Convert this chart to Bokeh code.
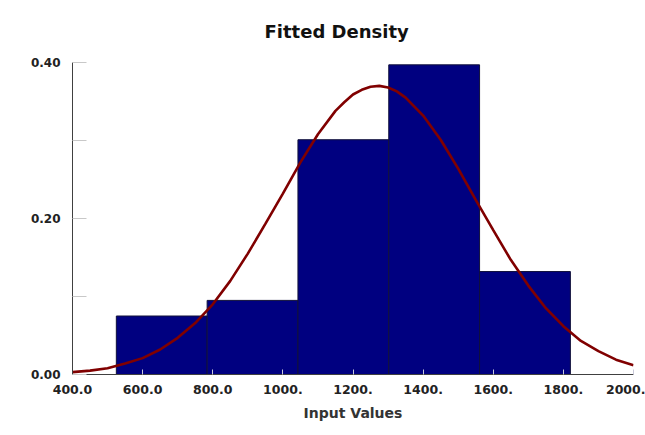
from bokeh.plotting import figure
from bokeh.models import FixedTicker, Range1d
from bokeh.embed import file_html
from bokeh.resources import INLINE

# Histogram bins (Input Values) and relative frequencies
bin_left = [525, 784, 1043, 1302, 1561]
bin_right = [784, 1043, 1302, 1561, 1820]
bin_height = [0.075, 0.095, 0.301, 0.397, 0.132]

# Fitted density curve
curve_x = [400, 450, 500, 550, 600, 650, 700, 750, 800, 850, 900, 950, 1000,
           1050, 1100, 1150, 1175, 1200, 1225, 1250, 1275, 1300, 1325, 1350,
           1400, 1450, 1500, 1550, 1600, 1650, 1700, 1750, 1800, 1850, 1900,
           1950, 2000]
curve_y = [0.003, 0.005, 0.008, 0.014, 0.021, 0.032, 0.047, 0.066, 0.090,
           0.120, 0.155, 0.193, 0.232, 0.272, 0.308, 0.338, 0.349, 0.359,
           0.365, 0.369, 0.370, 0.368, 0.363, 0.355, 0.332, 0.301, 0.264,
           0.224, 0.185, 0.147, 0.114, 0.085, 0.062, 0.043, 0.030, 0.019,
           0.012]

# Axis ticks and labels
x_ticks = [400, 600, 800, 1000, 1200, 1400, 1600, 1800, 2000]
x_tick_labels = ["400.0", "600.0", "800.0", "1000.", "1200.", "1400.", "1600.", "1800.", "2000."]
y_ticks = [0.0, 0.1, 0.2, 0.3, 0.4]
y_tick_labels = ["0.00", "", "0.20", "", "0.40"]

p = figure(width=645, height=435, output_backend="svg", toolbar_location=None,
           x_range=Range1d(400, 2000), y_range=Range1d(0, 0.40),
           min_border_left=72, min_border_right=12, min_border_top=62, min_border_bottom=61)

p.title.text = "Fitted Density"
p.title.align = "left"
p.title.offset = 192
p.title.vertical_align = "top"
p.title.text_font = "DejaVu Sans"
p.title.text_font_size = "18px"
p.title.text_font_style = "bold"
p.title.text_color = "#111111"
p.title.standoff = 37

p.outline_line_color = None
p.xgrid.grid_line_color = None
p.ygrid.grid_line_color = None
p.background_fill_color = "white"
p.border_fill_color = "white"

p.quad(left=bin_left, right=bin_right, top=bin_height, bottom=0,
       fill_color="#000080", line_color="#10103a", line_width=1)
p.line(curve_x, curve_y, line_color="#800000", line_width=2.6)

p.xaxis.ticker = FixedTicker(ticks=x_ticks)
p.xaxis.major_label_overrides = {t: l for t, l in zip(x_ticks, x_tick_labels)}
p.xaxis.minor_tick_line_color = None
p.xaxis.major_tick_in = 5
p.xaxis.major_tick_out = 0
p.xaxis.major_tick_line_color = "#c8c8d8"
p.xaxis.axis_line_color = "#404040"
p.xaxis.major_label_text_font = "DejaVu Sans"
p.xaxis.major_label_text_font_size = "12.5px"
p.xaxis.major_label_text_font_style = "bold"
p.xaxis.major_label_text_color = "#222222"
p.xaxis.major_label_standoff = 10
p.xaxis.axis_label = "Input Values"
p.xaxis.axis_label_text_font = "DejaVu Sans"
p.xaxis.axis_label_text_font_size = "14px"
p.xaxis.axis_label_text_font_style = "bold"
p.xaxis.axis_label_text_color = "#333333"
p.xaxis.axis_label_standoff = 8

p.yaxis.ticker = FixedTicker(ticks=y_ticks)
p.yaxis.major_label_overrides = {t: l for t, l in zip(y_ticks, y_tick_labels)}
p.yaxis.minor_tick_line_color = None
p.yaxis.major_tick_in = 14
p.yaxis.major_tick_out = 0
p.yaxis.major_tick_line_color = "#c8c8c8"
p.yaxis.axis_line_color = "#404040"
p.yaxis.major_label_text_font = "DejaVu Sans"
p.yaxis.major_label_text_font_size = "12px"
p.yaxis.major_label_text_font_style = "bold"
p.yaxis.major_label_text_color = "#222222"
p.yaxis.major_label_standoff = 12

open("out.html", "w").write(file_html(p, INLINE))
